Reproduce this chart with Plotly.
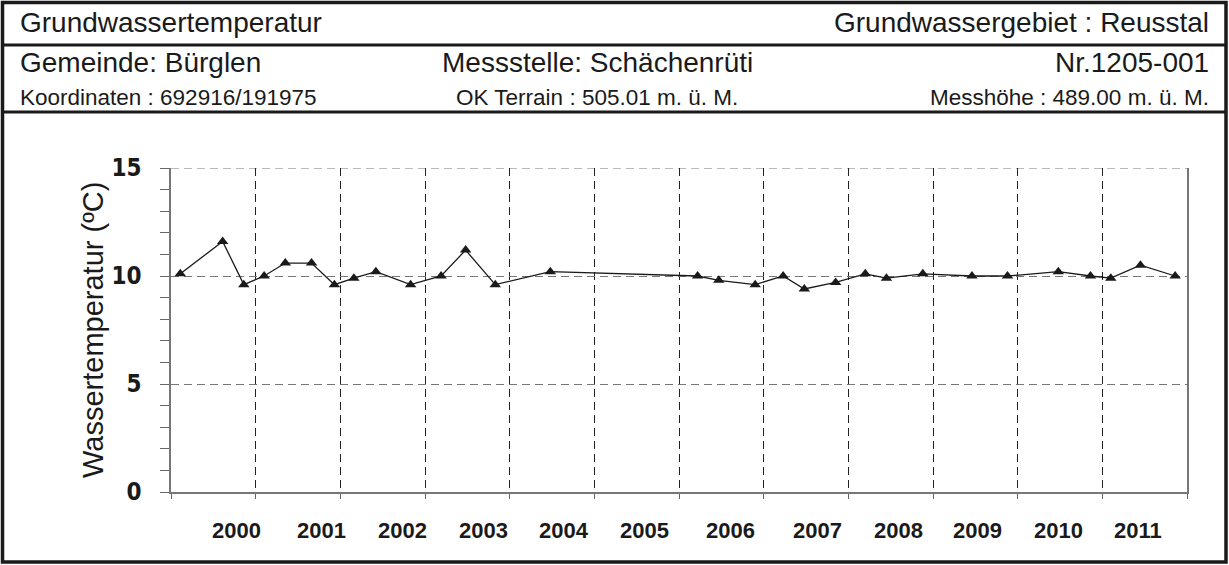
import plotly.graph_objects as go

# ---------------- data ----------------
dates_dec = [2000.11, 2000.61, 2000.86, 2001.10, 2001.35, 2001.66, 2001.93,
             2002.16, 2002.42, 2002.83, 2003.19, 2003.48, 2003.83, 2004.48,
             2006.22, 2006.47, 2006.90, 2007.23, 2007.48, 2007.85, 2008.20,
             2008.45, 2008.88, 2009.46, 2009.88, 2010.48, 2010.86, 2011.10,
             2011.45, 2011.86]
temps = [10.1, 11.6, 9.6, 10.0, 10.6, 10.6, 9.6, 9.9, 10.2, 9.6, 10.0, 11.2,
         9.6, 10.2, 10.0, 9.8, 9.6, 10.0, 9.4, 9.7, 10.1, 9.9, 10.1, 10.0,
         10.0, 10.2, 10.0, 9.9, 10.5, 10.0]

year_label_pos = [2000.77, 2001.78, 2002.74, 2003.69, 2004.64, 2005.59,
                  2006.61, 2007.63, 2008.59, 2009.53, 2010.48, 2011.42]
year_labels = ["2000", "2001", "2002", "2003", "2004", "2005", "2006",
               "2007", "2008", "2009", "2010", "2011"]
y_ticks = [0, 5, 10, 15]
x_range = [2000, 2012]
y_range = [0, 15]

header_title_left = "Grundwassertemperatur"
header_title_right = "Grundwassergebiet : Reusstal"
header_row2 = ["Gemeinde: Bürglen", "Messstelle: Schächenrüti", "Nr.1205-001"]
header_row3 = ["Koordinaten : 692916/191975", "OK Terrain : 505.01 m. ü. M.",
               "Messhöhe : 489.00 m. ü. M."]
y_title = "Wassertemperatur (ºC)"

# ---------------- layout geometry (pixels) ----------------
W, H = 1229, 565
ML, MR, MT, MB = 171, 42, 168, 73
PW = W - ML - MR
PH = H - MT - MB


def fx(px):
    return (px - ML) / PW


def fy(py):
    return (H - MB - py) / PH


FONT = "Liberation Sans, Arial, sans-serif"
INK = "#1a1a1a"

fig = go.Figure()
fig.add_trace(go.Scatter(
    x=dates_dec, y=temps, mode="lines+markers",
    line=dict(color=INK, width=1.3),
    marker=dict(symbol="triangle-up", size=10, color=INK),
    showlegend=False, hoverinfo="x+y",
))

annotations = []


def txt(s, px, py, size, anchor):
    annotations.append(dict(
        text=s, x=fx(px), y=fy(py), xref="paper", yref="paper",
        xanchor=anchor, yanchor="middle", showarrow=False,
        font=dict(family=FONT, size=size, color=INK)))


txt(header_title_left, 18, 22, 28, "left")
txt(header_title_right, 1211, 22, 28, "right")
txt(header_row2[0], 18, 63, 28, "left")
txt(header_row2[1], 597, 63, 28, "center")
txt(header_row2[2], 1211, 63, 28, "right")
txt(header_row3[0], 18, 98, 22.5, "left")
txt(header_row3[1], 597, 98, 22.5, "center")
txt(header_row3[2], 1211, 98, 22.5, "right")

annotations.append(dict(
    text=y_title, x=fx(93), y=fy(330), xref="paper", yref="paper",
    xanchor="center", yanchor="middle", showarrow=False, textangle=-90,
    font=dict(family=FONT, size=29, color=INK)))

# year labels along the time axis
for pos, lab in zip(year_label_pos, year_labels):
    annotations.append(dict(
        text="<b>" + lab + "</b>", x=pos, y=fy(530), xref="x", yref="paper",
        xanchor="center", yanchor="middle", showarrow=False,
        font=dict(family=FONT, size=22, color=INK)))

shapes = []
# outer frame
shapes.append(dict(type="rect", xref="paper", yref="paper",
                   x0=fx(2.5), x1=fx(1226), y0=fy(2.5), y1=fy(562),
                   line=dict(color=INK, width=3.5)))
for yy in (45, 112):
    shapes.append(dict(type="line", xref="paper", yref="paper",
                       x0=fx(2.5), x1=fx(1226), y0=fy(yy), y1=fy(yy),
                       line=dict(color=INK, width=3)))
# top gridline (at 15) which plotly omits at the range edge
shapes.append(dict(type="line", xref="x", yref="y",
                   x0=x_range[0], x1=x_range[1], y0=y_range[1], y1=y_range[1],
                   line=dict(color="#777777", width=1.2, dash="8px,5px"),
                   layer="below"))

fig.update_layout(
    width=W, height=H,
    margin=dict(l=ML, r=MR, t=MT, b=MB, pad=0),
    paper_bgcolor="white", plot_bgcolor="white",
    annotations=annotations, shapes=shapes,
    xaxis=dict(range=x_range, tick0=2000, dtick=1,
               showgrid=True, gridcolor="#222222", gridwidth=1,
               griddash="8px,5px", showticklabels=False,
               ticks="outside", ticklen=5, tickcolor="#666666",
               showline=True, linecolor="#777777", linewidth=1.5,
               zeroline=False, fixedrange=True),
    yaxis=dict(range=y_range, tickmode="array", tickvals=y_ticks,
               showgrid=True, gridcolor="#777777", gridwidth=1,
               griddash="8px,5px",
               ticks="outside", ticklen=9, tickcolor="#666666",
               minor=dict(dtick=1, ticks="outside", ticklen=9,
                          tickcolor="#666666", showgrid=False),
               showline=True, linecolor="#777777", linewidth=1.5,
               mirror=True, zeroline=False, ticklabelstandoff=14,
               tickfont=dict(family="DejaVu Sans Condensed, " + FONT,
                             size=24, color=INK, weight="bold"),
               fixedrange=True),
)

fig.write_html("out.html",
               config={"displayModeBar": False},
               post_script="document.body.style.margin='0px';"
                           "document.body.style.overflow='hidden';")
